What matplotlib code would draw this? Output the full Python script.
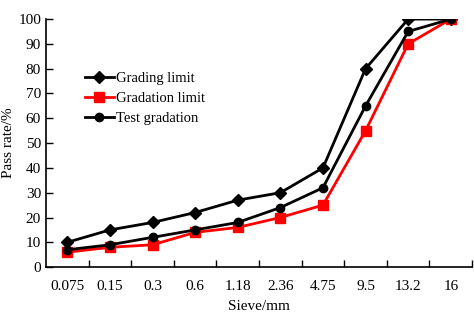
import numpy as np
import matplotlib
matplotlib.use("Agg")
import matplotlib.pyplot as plt

plt.rcParams['font.family'] = ['Liberation Serif', 'DejaVu Serif']

sieves = ['0.075', '0.15', '0.3', '0.6', '1.18', '2.36', '4.75', '9.5', '13.2', '16']
grading_limit = [10, 15, 18, 22, 27, 30, 40, 80, 100, 100]
gradation_limit = [6, 8, 9, 14, 16, 20, 25, 55, 90, 100]
test_gradation = [7, 9, 12, 15, 18, 24, 32, 65, 95, 100]

x = np.arange(len(sieves))

fig = plt.figure(figsize=(4.74, 3.18), dpi=100)
ax = fig.add_axes([0.097, 0.160, 0.899, 0.780])

ax.plot(x, grading_limit, '-', color='black', marker='D', markersize=6, lw=2, label='Grading limit')
ax.plot(x, gradation_limit, '-', color='#ff0000', marker='s', markersize=7, lw=2, label='Gradation limit')
ax.plot(x, test_gradation, '-', color='black', marker='o', markersize=6, lw=2, label='Test gradation')

ax.set_xlim(-0.5, len(sieves) - 0.5)
ax.set_ylim(0, 100)
ax.set_yticks(range(0, 101, 10))
ax.set_xticks(x)
ax.set_xticklabels(sieves)
ax.tick_params(axis='x', length=0, pad=9, labelsize=11)
ax.set_xticks(np.arange(0.5, len(sieves), 1), minor=True)
ax.tick_params(axis='x', which='minor', length=5, direction='in', width=1)
ax.tick_params(axis='y', length=5, direction='in', width=1, labelsize=11)

ax.spines['top'].set_visible(False)
ax.spines['right'].set_visible(False)
for s in ['left', 'bottom']:
    ax.spines[s].set_linewidth(1.2)

ax.set_xlabel('Sieve/mm', fontsize=11, labelpad=5)
ax.set_ylabel('Pass rate/%', fontsize=11, labelpad=2)

ax.legend(loc='upper left', bbox_to_anchor=(0.06, 0.84), frameon=False,
          fontsize=10.5, handlelength=2.0, handletextpad=0.15, labelspacing=0.45)

fig.savefig('out.png', dpi=100)
